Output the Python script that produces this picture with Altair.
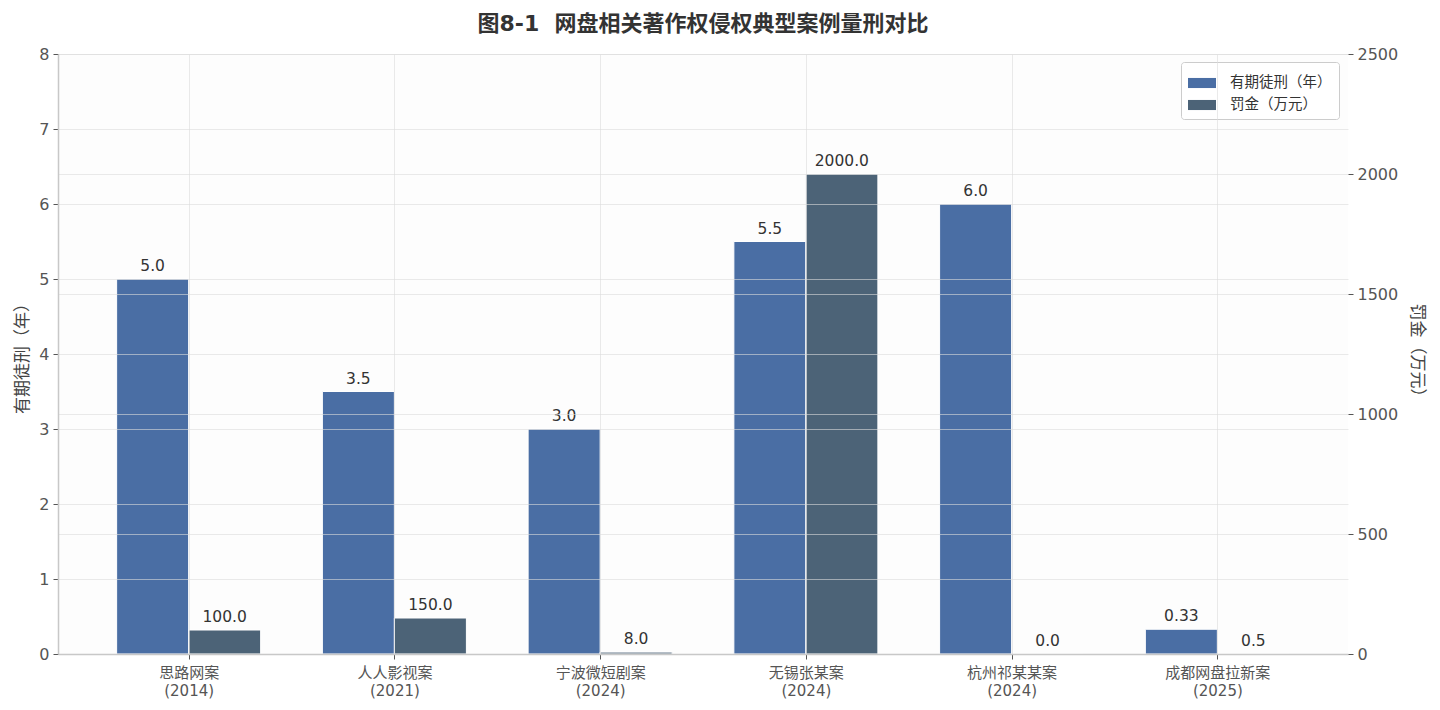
import altair as alt
import pandas as pd

cases = ["思路网案", "人人影视案", "宁波微短剧案", "无锡张某案", "杭州祁某某案", "成都网盘拉新案"]
case_years = ["2014", "2021", "2024", "2024", "2024", "2025"]
prison_years = [5.0, 3.5, 3.0, 5.5, 6.0, 0.33]
fines = [100.0, 150.0, 8.0, 2000.0, 0.0, 0.5]

series_names = ["有期徒刑（年）", "罚金（万元）"]
colors = ["#4a6ea4", "#4c6377"]

FONT = "DejaVu Sans, Noto Sans CJK SC, sans-serif"
CJK = "Noto Sans CJK SC, DejaVu Sans, sans-serif"

def fmt(v):
    return f"{v:.1f}" if round(v, 1) == v else f"{v:.2f}"

df = pd.DataFrame({
    "idx": list(range(len(cases))),
    "case": cases,
    "cyear": case_years,
    "prison": prison_years,
    "fine": fines,
    "p_label": [fmt(v) for v in prison_years],
    "f_label": [fmt(v) for v in fines],
    "s1": series_names[0],
    "s2": series_names[1],
})

label_js = "[" + ",".join(f"['{c}','({y})']" for c, y in zip(cases, case_years)) + "][datum.value]"

xscale = alt.Scale(domain=[-0.635, 5.635], nice=False, zero=False)
color_scale = alt.Scale(domain=series_names, range=colors)

base = alt.Chart(df).transform_calculate(
    px="datum.idx - 0.35", px2="datum.idx", pc="datum.idx - 0.175",
    fx="datum.idx", fx2="datum.idx + 0.35", fc="datum.idx + 0.175",
)

grid_color = "#dcdcdc"
grid_op = 0.6

x_axis = alt.Axis(values=list(range(len(cases))), labelExpr=label_js, title=None,
                  grid=True, gridColor=grid_color, gridOpacity=grid_op,
                  tickSize=5, tickColor="#555555", domainColor="#c8c8c8", domainWidth=1.5,
                  labelFont=FONT, labelFontSize=15, labelColor="#555555", labelPadding=6,
                  labelLineHeight=18, zindex=1)

legend = alt.Legend(title=None, orient="none", legendX=1123, legendY=8,
                    fillColor="white", strokeColor="#cccccc", cornerRadius=3, padding=7,
                    labelFont=CJK, labelFontSize=14.5, labelColor="#333333",
                    symbolType="M-1,-0.36H1V0.36H-1Z", symbolSize=784, symbolStrokeWidth=0,
                    symbolOpacity=1, rowPadding=1, labelOffset=14, labelLimit=200)

left_y = alt.Scale(domain=[0, 8], nice=False)
right_y = alt.Scale(domain=[0, 2500], nice=False)

left_axis = alt.Axis(values=list(range(9)), format="d", title="有期徒刑（年）", titleFont=CJK, titleFontSize=17,
                     titleFontWeight="normal", titleColor="#444444", titlePadding=7,
                     labelFont=FONT, labelFontSize=16, labelColor="#555555", labelPadding=4,
                     tickSize=5, tickColor="#555555", domainColor="#c8c8c8", domainWidth=1.5,
                     grid=True, gridColor=grid_color, gridOpacity=grid_op, zindex=1)
right_axis = alt.Axis(orient="right", values=[0, 500, 1000, 1500, 2000, 2500], format="d", title="罚金（万元）",
                      titleFont=CJK, titleFontSize=17, titleFontWeight="normal", titleColor="#444444",
                      titlePadding=10, labelFont=FONT, labelFontSize=16, labelColor="#555555",
                      labelPadding=4, tickSize=5, tickColor="#555555", domain=False,
                      grid=True, gridColor=grid_color, gridOpacity=grid_op, zindex=1)

bars1 = base.mark_bar(stroke="white", strokeWidth=1).encode(
    x=alt.X("px:Q", scale=xscale, axis=x_axis),
    x2="px2:Q",
    y=alt.Y("prison:Q", scale=left_y, axis=left_axis),
    y2=alt.datum(0),
    color=alt.Color("s1:N", scale=color_scale, legend=legend),
)
text1 = base.mark_text(baseline="bottom", dy=-5, font=FONT, fontSize=15.5, color="#333333").encode(
    x=alt.X("pc:Q", scale=xscale),
    y=alt.Y("prison:Q", scale=left_y),
    text="p_label:N",
)
left = alt.layer(bars1, text1)

bars2 = base.mark_bar(stroke="white", strokeWidth=1).encode(
    x=alt.X("fx:Q", scale=xscale),
    x2="fx2:Q",
    y=alt.Y("fine:Q", scale=right_y, axis=right_axis),
    y2=alt.datum(0),
    color=alt.Color("s2:N", scale=color_scale, legend=legend),
)
text2 = base.mark_text(baseline="bottom", dy=-5, font=FONT, fontSize=15.5, color="#333333").encode(
    x=alt.X("fc:Q", scale=xscale),
    y=alt.Y("fine:Q", scale=right_y),
    text="f_label:N",
)
right = alt.layer(bars2, text2)

chart = alt.layer(left, right).resolve_scale(y="independent").properties(
    width=1290, height=600,
    title=alt.TitleParams("图8-1\u00a0\u00a0网盘相关著作权侵权典型案例量刑对比", font=FONT, fontSize=22,
                          fontWeight="bold", color="#333333", anchor="middle", offset=10),
    background="white",
).configure_view(stroke=None, fill="#fdfdfd")

chart.save("out.html", embed_options={"renderer": "svg", "actions": False})
